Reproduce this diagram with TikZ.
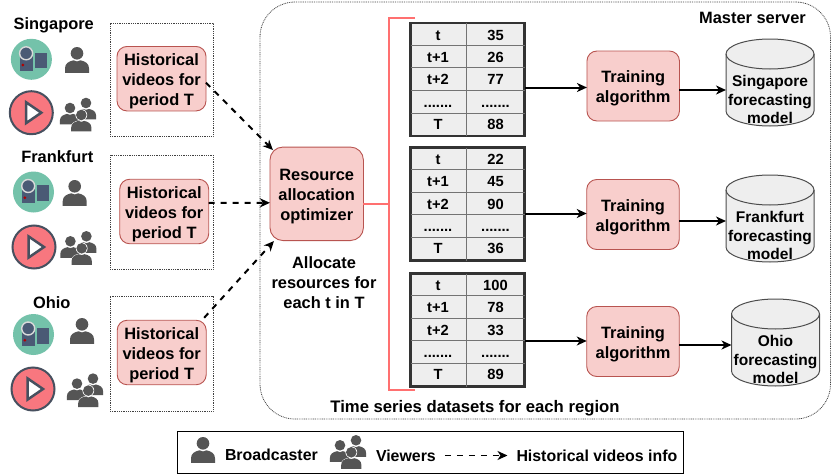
\documentclass[tikz,border=0pt]{standalone}
\usepackage{fontspec}
\setmainfont{Liberation Sans}
\usetikzlibrary{arrows.meta}
\definecolor{pinkfill}{HTML}{F8CECC}
\definecolor{pinkline}{HTML}{B85450}
\definecolor{brk}{HTML}{FF7070}
\definecolor{cellfill}{HTML}{EEEEEE}
\definecolor{tealc}{HTML}{74C2AA}
\definecolor{navyc}{HTML}{4A5A75}
\definecolor{playc}{HTML}{F8777F}
\definecolor{ringc}{HTML}{47505F}
\definecolor{personc}{HTML}{555555}
\newcommand{\rowdots}{.\kern0pt.\kern0pt.\kern0pt.\kern0pt.\kern0pt.\kern0pt.}
\newcommand{\Tup}{\rule{0pt}{17pt}}
\tikzset{
  every node/.style={outer sep=0pt},
  lbl/.style={font=\bfseries\fontsize{16.4}{20}\selectfont,align=center,inner sep=0pt,text=black},
  lgd/.style={font=\bfseries\fontsize{15.9}{20}\selectfont,inner sep=0pt,text=black},
  pinkbox/.style={lbl,draw=pinkline,fill=pinkfill,line width=.9pt,rounded corners=10pt,minimum width=89pt,minimum height=64.5pt},
  trainbox/.style={pinkbox,minimum width=92.5pt,minimum height=70pt},
  dotbox/.style={draw=black!75,line width=.8pt,dash pattern=on .9pt off .9pt,inner sep=0pt,minimum width=103pt},
  dasharrow/.style={line width=2pt,dash pattern=on 6pt off 6pt,-{Stealth[length=10pt,width=9pt,inset=3pt]}},
  solidarrow/.style={line width=2pt,-{Stealth[length=10pt,width=9pt,inset=3pt]}},
  cell/.style={font=\bfseries\fontsize{14.7}{17}\selectfont,inner sep=0pt,text height=10.5pt,text depth=0pt},
  cyllabel/.style={font=\bfseries\fontsize{15.5}{18.5}\selectfont,align=center,inner sep=0pt,minimum width=88pt,minimum height=87pt},
  person/.pic={
    \path[fill=white,draw=white,line width=.8pt] (-12,19.6) -- (-12,15) .. controls (-12,10) and (-8,8) .. (-3.5,7) .. controls (-1,8.5) and (1,8.5) .. (3.5,7) .. controls (8,8) and (12,10) .. (12,15) -- (12,19.6) -- cycle;
    \fill[personc] (-12,19.6) -- (-12,15) .. controls (-12,10) and (-8,8) .. (-3.5,7) .. controls (-1,8.5) and (1,8.5) .. (3.5,7) .. controls (8,8) and (12,10) .. (12,15) -- (12,19.6) -- cycle;
    \path[fill=white] (0,0) circle (7);
    \fill[personc] (0,0) circle (6.3);
  },
  viewers/.pic={
    \pic[scale=.84] at (7.7,-11.7) {person};
    \pic[scale=.84] at (-8.3,-6.7) {person};
    \pic[scale=.84] at (3,0.3) {person};
  },
  camicon/.pic={
    \fill[tealc] (0,0) circle (20.5);
    \fill[navyc] (-11.8,-4.3) rectangle (1.4,11.4);
    \fill[navyc] (3.7,-6.6) rectangle (15.4,9);
    \fill[red!70!black] (-8.6,5.7) circle (1.5);
    \draw[fill=navyc,draw=black!15!white,line width=1.4pt] (-5.3,-6) circle (6.5);
  },
  playicon/.pic={
    \draw[fill=playc,draw=ringc,line width=2pt] (0,0) circle (21.5);
    \draw[fill=white,draw=ringc,line width=2.5pt,line join=miter] (-5.3,-10.5) -- (10,0) -- (-5.3,10.5) -- cycle;
  }
}
\newcommand{\datatable}[6]{%
  \node[draw=black!80,line width=2.2pt,fill=cellfill,minimum width=114pt,minimum height=113pt,inner sep=0pt,anchor=north west] (#1) at (410.5,#2) {};
  \foreach \off in {22.2,44.8,67,90.2}{\draw[black!55,line width=.9pt] (410.5,#2+\off) -- (524.5,#2+\off);}
  \draw[black!55,line width=.9pt] (466.5,#2) -- (466.5,#2+113);
  \foreach \lab/\val/\off [count=\i] in {t/#3/12,t+1/#4/34,t+2/#5/56.5,\rowdots/\rowdots/79,T/#6/101}{
    \node[cell,name=#1-a\i] at (438,#2+\off) {\lab};
    \node[cell,name=#1-b\i] at (495.5,#2+\off) {\val};
  }
}
\newcommand{\cylshape}[3]{% name, cx, top
  \draw[fill=cellfill,draw=black!70,line width=1pt] (#2-44,#3+15) -- (#2-44,#3+72) arc[x radius=44,y radius=15,start angle=180,end angle=0] -- (#2+44,#3+15) arc[x radius=44,y radius=15,start angle=0,end angle=-180] -- cycle;
  \draw[draw=black!70,line width=1pt] (#2-44,#3+15) arc[x radius=44,y radius=15,start angle=180,end angle=0];
}
\begin{document}
\begin{tikzpicture}[x=1pt,y=-1pt]
\useasboundingbox (0,0) rectangle (831,474);
% containers
\node[draw=black!75,line width=.8pt,dash pattern=on .9pt off .9pt,rounded corners=35pt,minimum width=570.5pt,minimum height=417pt,inner sep=0pt,anchor=north west] (master) at (260,2) {};
\node[dotbox,minimum height=113pt,anchor=north west] (d1) at (110,23) {};
\node[dotbox,minimum height=114pt,anchor=north west] (d2) at (110,155) {};
\node[dotbox,minimum height=115pt,anchor=north west] (d3) at (110,296) {};
% region labels
\node[lbl] (singapore) at (53.7,25) {Singapore};
\node[lbl] (frankfurt) at (57.3,156.8) {Frankfurt};
\node[lbl] (ohio) at (51.7,302.5) {Ohio};
% icons
\pic at (31.4,59.3) {camicon};
\pic at (31.3,112.7) {playicon};
\pic at (77,53.3) {person};
\pic at (78.3,114.7) {viewers};
\pic at (33.5,192) {camicon};
\pic at (34,247) {playicon};
\pic at (74.7,186.3) {person};
\pic at (78.7,248) {viewers};
\pic at (33.5,334.5) {camicon};
\pic at (33,389) {playicon};
\pic at (82,324.3) {person};
\pic at (85.3,390.3) {viewers};
% historical boxes
\node[pinkbox] (hv1) at (161.5,78.7) {\Tup Historical\\videos for\\period T};
\node[pinkbox] (hv2) at (164.2,211.5) {\Tup Historical\\videos for\\period T};
\node[pinkbox] (hv3) at (161.7,352.5) {\Tup Historical\\videos for\\period T};
% optimizer
\node[pinkbox,minimum width=93.5pt,minimum height=93.5pt,rounded corners=13pt] (opt) at (316.7,193.8) {\Tup Resource\\allocation\\optimizer};
\node[lbl] (alloc) at (324,282.5) {Allocate\\resources for\\each t in T};
\node[lbl] (msrv) at (752.5,18) {Master server};
\node[lbl,font=\bfseries\fontsize{16.7}{20}\selectfont] (tsd) at (475,408) {Time series datasets for each region};
% bracket
\coordinate (brk1) at (415,18);
\coordinate (brk2) at (415,390);
\coordinate (brkm) at (389,204);
\draw[brk,line width=2pt] (brk1) -- (389,18) -- (389,390) -- (brk2);
\draw[brk,line width=2pt] ([shift={(0,10.2)}]opt.east) -- (brkm);
% tables
\datatable{tab1}{23}{35}{26}{77}{88}
\datatable{tab2}{147.5}{22}{45}{90}{36}
\datatable{tab3}{273.5}{100}{78}{33}{89}
% training
\node[trainbox] (tr1) at (633.2,86) {\Tup Training\\algorithm};
\node[trainbox] (tr2) at (633,214.5) {\Tup Training\\algorithm};
\node[trainbox] (tr3) at (633,341.5) {\Tup Training\\algorithm};
% models
\cylshape{c1}{770}{39}
\cylshape{c2}{770}{175}
\cylshape{c3}{775.5}{299}
\node[cyllabel] (m1) at (770,99.5) {Singapore\\forecasting\\model};
\node[cyllabel] (m2) at (770,235.5) {Frankfurt\\forecasting\\model};
\node[cyllabel] (m3) at (775.5,359.5) {Ohio\\forecasting\\model};
% dashed arrows
\draw[dasharrow] ([shift={(0,4)}]hv1.east) -- ([shift={(3,3)}]opt.north west);
\draw[dasharrow] ([shift={(0,-8.5)}]hv2.east) -- ([shift={(0,9)}]opt.west);
\draw[dasharrow] ([shift={(-2,-2.5)}]hv3.north east) -- ([shift={(4,0.5)}]opt.south west);
% solid arrows
\draw[solidarrow] ([shift={(0,8)}]tab1.east) -- ([shift={(0,1.5)}]tr1.west);
\draw[solidarrow] ([shift={(0,9.5)}]tab2.east) -- ([shift={(0,-1)}]tr2.west);
\draw[solidarrow] ([shift={(0,11)}]tab3.east) -- ([shift={(0,-.5)}]tr3.west);
\draw[solidarrow] ([shift={(0,4)}]tr1.east) -- ([shift={(0,-9.5)}]m1.west);
\draw[solidarrow] ([shift={(0,6.5)}]tr2.east) -- ([shift={(0,-14.5)}]m2.west);
\draw[solidarrow] ([shift={(0,3.5)}]tr3.east) -- ([shift={(0,-14.5)}]m3.west);
% legend
\node[draw=black,line width=1pt,minimum width=506pt,minimum height=42pt,inner sep=0pt,anchor=north west] (legend) at (177,431) {};
\pic at (203,443.3) {person};
\pic at (348.3,452) {viewers};
\node[lgd,anchor=west] (lb) at (225,454.5) {Broadcaster};
\node[lgd,anchor=west] (lv) at (376,455.5) {Viewers};
\node[lgd,anchor=west] (lh) at (516.5,455.5) {Historical videos info};
\draw[line width=1.8pt,dash pattern=on 6pt off 6pt,-{Stealth[length=10pt,width=9pt,inset=3pt]},shorten <=9pt,shorten >=9pt] (lv.east) -- (lh.west);
\end{tikzpicture}
\end{document}
